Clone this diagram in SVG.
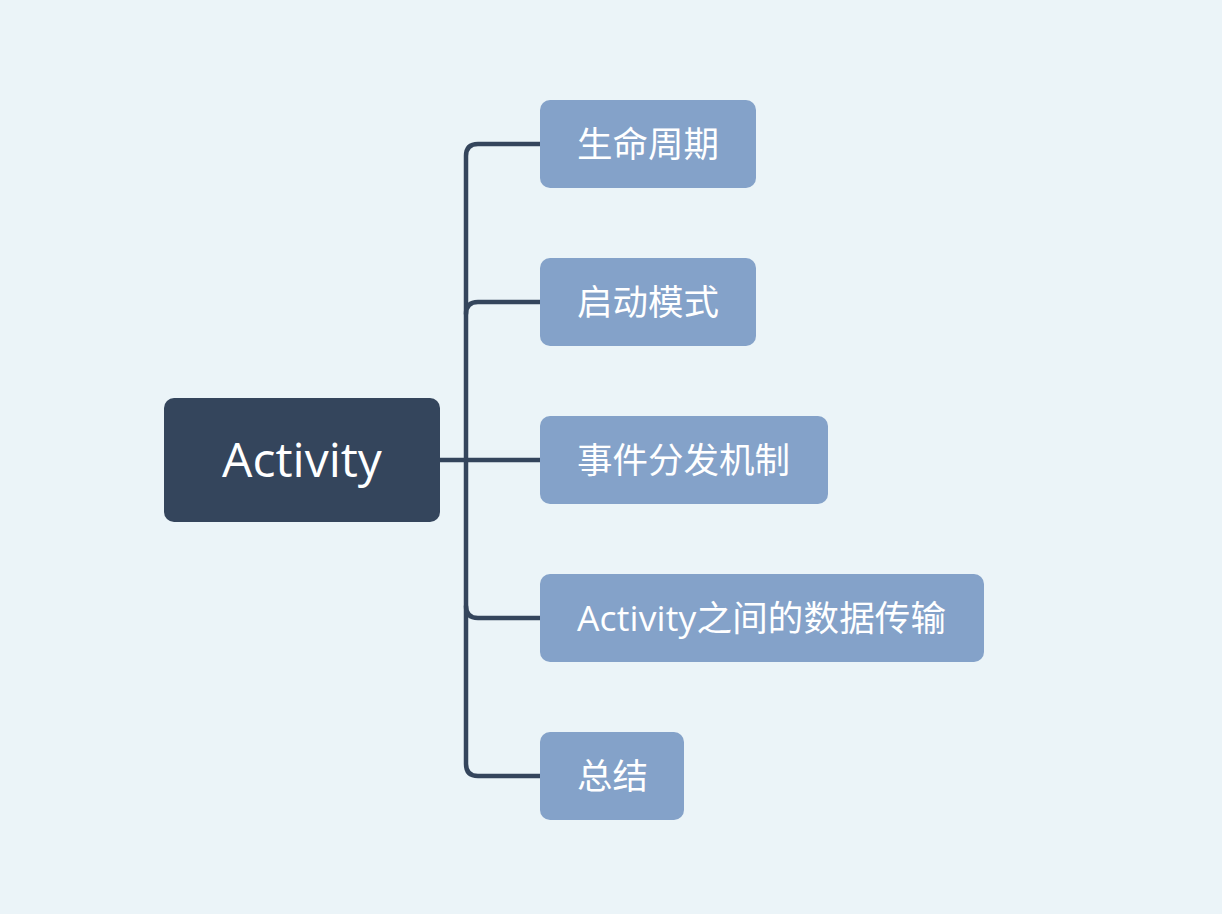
<svg xmlns="http://www.w3.org/2000/svg" width="1222" height="914" viewBox="0 0 1222 914">
<style>
.root{fill:#34455C}
.child{fill:#84A2C9}
.lbl{fill:#FFFFFF;font-family:"Open Sans","Noto Sans CJK SC",sans-serif}
.conn{fill:none;stroke:#34455C;stroke-width:4.5;stroke-linecap:round;stroke-linejoin:round}
</style>
<rect width="1222" height="914" fill="#EBF4F8"/>
<g id="connectors">
<path class="conn" d="M540 144 H478 Q466 144 466 156 V764 Q466 776 478 776 H540"/>
<path class="conn" d="M540 302 H478 Q466 302 466 314"/>
<path class="conn" d="M540 618 H478 Q466 618 466 606"/>
<path class="conn" d="M440 460 H540"/>
</g>
<g id="root">
<rect class="root" x="164" y="398" width="276" height="124" rx="10"/>
<text class="lbl" x="302" y="477" font-size="48" text-anchor="middle">Activity</text>
</g>
<g id="n1">
<rect class="child" x="540" y="100" width="216" height="88" rx="10"/>
<text class="lbl" x="577" y="157" font-size="35.5">生命周期</text>
</g>
<g id="n2">
<rect class="child" x="540" y="258" width="216" height="88" rx="10"/>
<text class="lbl" x="577" y="315" font-size="35.5">启动模式</text>
</g>
<g id="n3">
<rect class="child" x="540" y="416" width="288" height="88" rx="10"/>
<text class="lbl" x="577" y="473" font-size="35.5">事件分发机制</text>
</g>
<g id="n4">
<rect class="child" x="540" y="574" width="444" height="88" rx="10"/>
<text class="lbl" x="577" y="631" font-size="35.5" textLength="369" lengthAdjust="spacing">Activity之间的数据传输</text>
</g>
<g id="n5">
<rect class="child" x="540" y="732" width="144" height="88" rx="10"/>
<text class="lbl" x="577" y="789" font-size="35.5">总结</text>
</g>
</svg>
